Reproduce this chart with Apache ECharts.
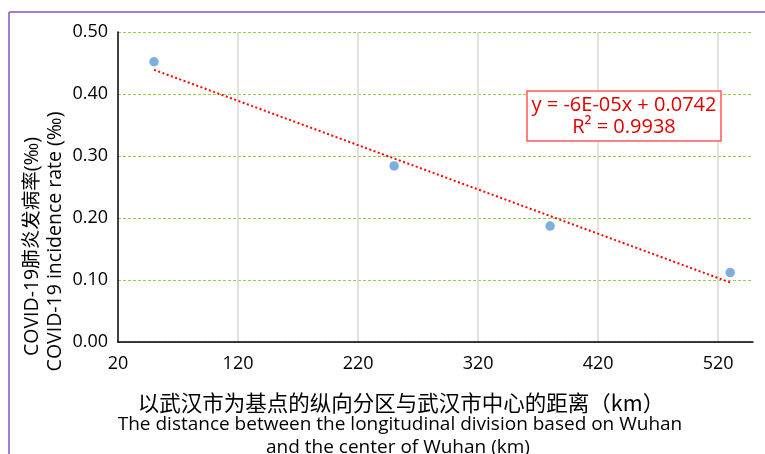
<!DOCTYPE html>
<html>
<head>
<meta charset="utf-8">
<script src="https://cdn.jsdelivr.net/npm/echarts@6/dist/echarts.min.js"></script>
<style>
html,body{margin:0;padding:0;background:#fff;}
#chart{width:765px;height:454px;}
</style>
</head>
<body>
<div id="chart"></div>
<script>
// Data
const distanceKm = [50, 250, 380, 530];
const incidenceRate = [0.452, 0.284, 0.187, 0.112];
const trendX = [50, 530];
const trendY = [0.439, 0.096];
const xTickLabels = [20, 120, 220, 320, 420, 520];
const xGridValues = [120, 220, 320, 420, 520];
const yTickLabels = [0, 0.1, 0.2, 0.3, 0.4, 0.5];
const equationText = ['y = -6E-05x + 0.0742', 'R\u00B2 = 0.9938'];
const yTitleLines = ['COVID-19肺炎发病率(‰)', 'COVID-19 incidence rate (‰)'];
const xTitleLines = ['以武汉市为基点的纵向分区与武汉市中心的距离（km）',
  'The distance between the longitudinal division based on Wuhan',
  'and the center of Wuhan (km)'];

const FONT = '"Open Sans", "Noto Sans", sans-serif';
const chart = echarts.init(document.getElementById('chart'), null, {renderer: 'canvas'});

const option = {
  backgroundColor: '#ffffff',
  animation: false,
  grid: {left: 118, top: 32, right: 12, bottom: 112, containLabel: false},
  xAxis: {
    type: 'value', min: 20, max: 549, interval: 100,
    axisLine: {show: true, onZero: false, lineStyle: {color: '#000', width: 1.5}},
    axisTick: {show: false, customValues: xGridValues},
    axisLabel: {customValues: xTickLabels, color: '#000', fontSize: 18, fontFamily: FONT, margin: 13},
    splitLine: {show: true, lineStyle: {color: '#d9d9d9', width: 1.5}}
  },
  yAxis: {
    type: 'value', min: 0, max: 0.5, interval: 0.1,
    axisLine: {show: true, lineStyle: {color: '#000', width: 1.5}},
    axisTick: {show: false},
    axisLabel: {color: '#000', fontSize: 18, fontFamily: FONT, margin: 10,
      formatter: v => v.toFixed(2)},
    splitLine: {show: true, lineStyle: {color: '#92d050', width: 1, type: [3, 2]}}
  },
  series: [
    {
      type: 'line', data: trendX.map((x, i) => [x, trendY[i]]),
      symbol: 'none', silent: true, z: 3,
      lineStyle: {color: '#ff0000', width: 2, type: [2, 2.5]}
    },
    {
      type: 'scatter', data: distanceKm.map((x, i) => [x, incidenceRate[i]]),
      symbol: 'circle', symbolSize: 9.5, z: 4,
      itemStyle: {color: '#5b9bd5'}
    }
  ],
  graphic: [
    {type: 'line', shape: {x1: 9, y1: 12, x2: 765, y2: 12}, style: {stroke: '#a47dcb', lineWidth: 2}},
    {type: 'line', shape: {x1: 9, y1: 12, x2: 9, y2: 454}, style: {stroke: '#a47dcb', lineWidth: 2}},
    {type: 'rect', shape: {x: 527, y: 91, width: 194, height: 50},
      style: {fill: '#ffffff', stroke: '#ff5a5a', lineWidth: 1.5}, z: 10},
    {type: 'text', x: 624, y: 105, z: 11,
      style: {text: equationText[0], fill: '#e00000', font: '20px ' + FONT, align: 'center', verticalAlign: 'middle'}},
    {type: 'text', x: 624, y: 127, z: 11,
      style: {text: equationText[1], fill: '#e00000', font: '20px ' + FONT, align: 'center', verticalAlign: 'middle'}},
    {type: 'text', x: 32, y: 246.5, rotation: Math.PI / 2,
      style: {text: yTitleLines[0], fill: '#000', font: '19.5px "Open Sans", "Noto Sans CJK SC", sans-serif', align: 'center', verticalAlign: 'middle'}},
    {type: 'text', x: 55, y: 241.5, rotation: Math.PI / 2,
      style: {text: yTitleLines[1], fill: '#000', font: '19.5px ' + FONT, align: 'center', verticalAlign: 'middle'}},
    {type: 'text', x: 401, y: 403,
      style: {text: xTitleLines[0], fill: '#000', font: '21.5px "Noto Sans CJK SC", sans-serif', align: 'center', verticalAlign: 'middle'}},
    {type: 'text', x: 400, y: 425,
      style: {text: xTitleLines[1], fill: '#000', font: '19px ' + FONT, align: 'center', verticalAlign: 'middle'}},
    {type: 'text', x: 398, y: 447.5,
      style: {text: xTitleLines[2], fill: '#000', font: '19px ' + FONT, align: 'center', verticalAlign: 'middle'}}
  ]
};
chart.setOption(option);
</script>
</body>
</html>
